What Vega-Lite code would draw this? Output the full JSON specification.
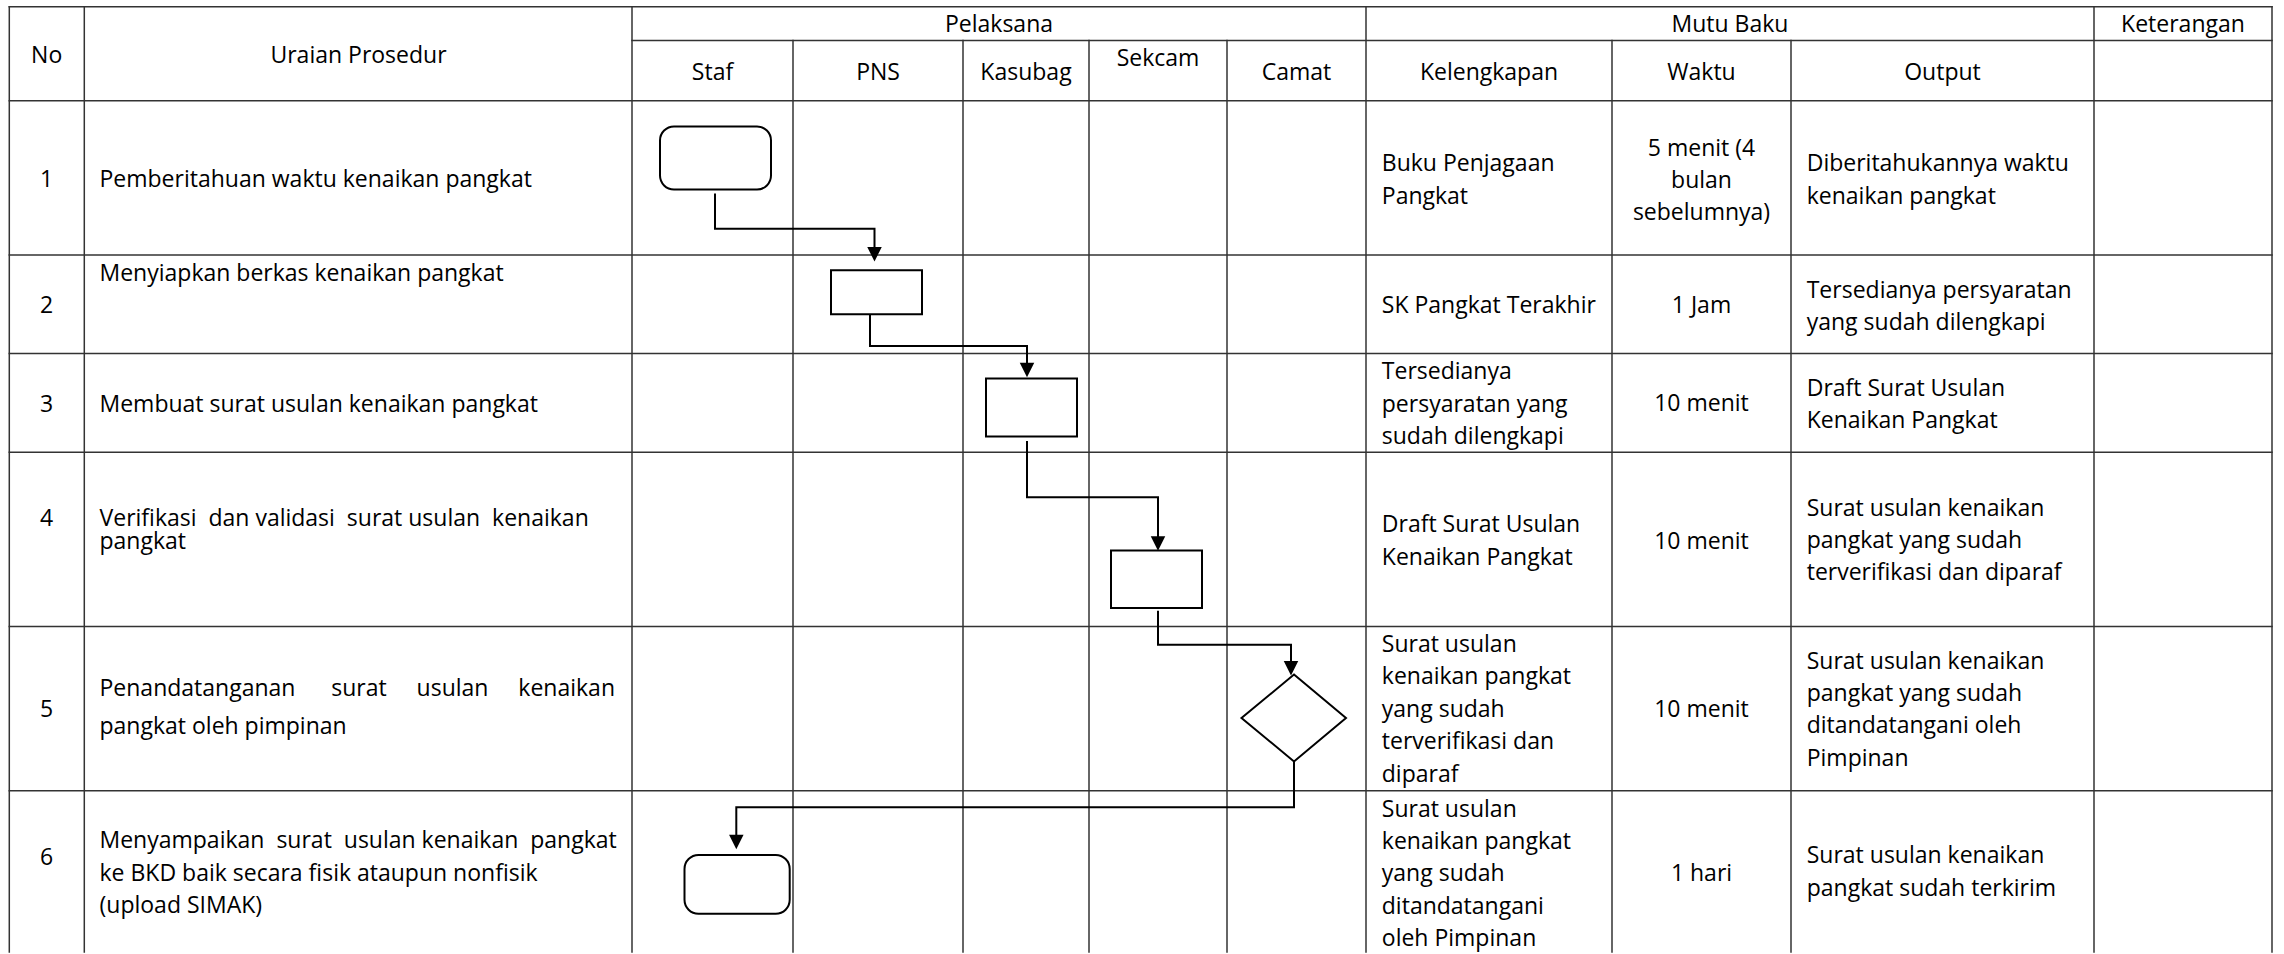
{
  "$schema": "https://vega.github.io/schema/vega-lite/v6.json",
  "width": 2284,
  "height": 954,
  "padding": 0,
  "autosize": {"type": "fit", "contains": "padding"},
  "background": "white",
  "config": {"view": {"stroke": null}, "text": {"font": "Open Sans", "fontSize": 23, "color": "black"}},
  "datasets": {
    "grid": [
      {"x": 9.3, "x2": 2272, "y": 6.7, "y2": 6.7},
      {"x": 632, "x2": 2272, "y": 40.7, "y2": 40.7},
      {"x": 9.3, "x2": 2272, "y": 101, "y2": 101},
      {"x": 9.3, "x2": 2272, "y": 255.5, "y2": 255.5},
      {"x": 9.3, "x2": 2272, "y": 354.3, "y2": 354.3},
      {"x": 9.3, "x2": 2272, "y": 453.3, "y2": 453.3},
      {"x": 9.3, "x2": 2272, "y": 627.8, "y2": 627.8},
      {"x": 9.3, "x2": 2272, "y": 792.3, "y2": 792.3},
      {"x": 9.3, "x2": 9.3, "y": 6.7, "y2": 954},
      {"x": 84.3, "x2": 84.3, "y": 6.7, "y2": 954},
      {"x": 632, "x2": 632, "y": 6.7, "y2": 954},
      {"x": 793, "x2": 793, "y": 40.7, "y2": 954},
      {"x": 963, "x2": 963, "y": 40.7, "y2": 954},
      {"x": 1089, "x2": 1089, "y": 40.7, "y2": 954},
      {"x": 1227, "x2": 1227, "y": 40.7, "y2": 954},
      {"x": 1366, "x2": 1366, "y": 6.7, "y2": 954},
      {"x": 1612, "x2": 1612, "y": 40.7, "y2": 954},
      {"x": 1791, "x2": 1791, "y": 40.7, "y2": 954},
      {"x": 2094, "x2": 2094, "y": 6.7, "y2": 954},
      {"x": 2272, "x2": 2272, "y": 6.7, "y2": 954}
    ],
    "roundBoxes": [
      {"step": 1, "x": 660, "x2": 771, "y": 126.7, "y2": 190},
      {"step": 6, "x": 684.5, "x2": 789.7, "y": 856.7, "y2": 915.7}
    ],
    "boxes": [
      {"step": 2, "x": 831, "x2": 922, "y": 270.7, "y2": 315},
      {"step": 3, "x": 986, "x2": 1077, "y": 379.3, "y2": 437.3},
      {"step": 4, "x": 1111, "x2": 1202, "y": 551.7, "y2": 609.3}
    ],
    "paths": [
      {"id": "c1", "seq": 1, "x": 715, "y": 194},
      {"id": "c1", "seq": 2, "x": 715, "y": 229.3},
      {"id": "c1", "seq": 3, "x": 874.5, "y": 229.3},
      {"id": "c1", "seq": 4, "x": 874.5, "y": 250},
      {"id": "c2", "seq": 1, "x": 870, "y": 315},
      {"id": "c2", "seq": 2, "x": 870, "y": 346.7},
      {"id": "c2", "seq": 3, "x": 1027, "y": 346.7},
      {"id": "c2", "seq": 4, "x": 1027, "y": 366},
      {"id": "c3", "seq": 1, "x": 1027, "y": 442},
      {"id": "c3", "seq": 2, "x": 1027, "y": 498.3},
      {"id": "c3", "seq": 3, "x": 1158, "y": 498.3},
      {"id": "c3", "seq": 4, "x": 1158, "y": 540},
      {"id": "c4", "seq": 1, "x": 1158, "y": 612},
      {"id": "c4", "seq": 2, "x": 1158, "y": 646},
      {"id": "c4", "seq": 3, "x": 1291, "y": 646},
      {"id": "c4", "seq": 4, "x": 1291, "y": 665},
      {"id": "c5", "seq": 1, "x": 1294, "y": 763},
      {"id": "c5", "seq": 2, "x": 1294, "y": 809},
      {"id": "c5", "seq": 3, "x": 736.3, "y": 809},
      {"id": "c5", "seq": 4, "x": 736.3, "y": 838},
      {"id": "d5", "seq": 1, "x": 1294, "y": 676},
      {"id": "d5", "seq": 2, "x": 1346, "y": 719.5},
      {"id": "d5", "seq": 3, "x": 1294, "y": 763},
      {"id": "d5", "seq": 4, "x": 1241.5, "y": 719.5},
      {"id": "d5", "seq": 5, "x": 1294, "y": 676},
      {"id": "d5", "seq": 6, "x": 1346, "y": 719.5}
    ],
    "arrows": [
      {"to": 2, "x": 874.5, "y": 262},
      {"to": 3, "x": 1027, "y": 378},
      {"to": 4, "x": 1158, "y": 552},
      {"to": 5, "x": 1291, "y": 677},
      {"to": 6, "x": 736.3, "y": 851}
    ],
    "textCenter": [
      {"t": "No", "x": 46.7, "y": 63.3},
      {"t": "Uraian Prosedur", "x": 358.5, "y": 63.3},
      {"t": "Pelaksana", "x": 999, "y": 32.3},
      {"t": "Mutu Baku", "x": 1730, "y": 32.3},
      {"t": "Keterangan", "x": 2183, "y": 32.3},
      {"t": "Staf", "x": 712.5, "y": 80},
      {"t": "PNS", "x": 878, "y": 80},
      {"t": "Kasubag", "x": 1026, "y": 80},
      {"t": "Sekcam", "x": 1158, "y": 66},
      {"t": "Camat", "x": 1296.5, "y": 80},
      {"t": "Kelengkapan", "x": 1489, "y": 80},
      {"t": "Waktu", "x": 1701.5, "y": 80},
      {"t": "Output", "x": 1942.5, "y": 80},
      {"t": "1", "x": 46.7, "y": 187.7},
      {"t": "2", "x": 46.7, "y": 314},
      {"t": "3", "x": 46.7, "y": 412.7},
      {"t": "4", "x": 46.7, "y": 526.7},
      {"t": "5", "x": 46.7, "y": 718.3},
      {"t": "6", "x": 46.7, "y": 866.7},
      {"t": "5 menit (4\nbulan\nsebelumnya)", "x": 1701.5, "y": 156},
      {"t": "1 Jam", "x": 1701.5, "y": 313.3},
      {"t": "10 menit", "x": 1701.5, "y": 411.7},
      {"t": "10 menit", "x": 1701.5, "y": 550},
      {"t": "10 menit", "x": 1701.5, "y": 718.3},
      {"t": "1 hari", "x": 1701.5, "y": 882.7}
    ],
    "textLeft": [
      {"t": "Pemberitahuan waktu kenaikan pangkat", "x": 99.5, "y": 187.7},
      {"t": "Menyiapkan berkas kenaikan pangkat", "x": 99.5, "y": 281.7},
      {"t": "Membuat surat usulan kenaikan pangkat", "x": 99.5, "y": 412.7},
      {"t": "Menyampaikan\u00a0\u00a0surat\u00a0\u00a0usulan kenaikan\u00a0\u00a0pangkat\nke BKD baik secara fisik ataupun nonfisik\n(upload SIMAK)", "x": 99.5, "y": 850},
      {"t": "Buku Penjagaan\nPangkat", "x": 1381.8, "y": 171.7},
      {"t": "SK Pangkat Terakhir", "x": 1381.8, "y": 313.3},
      {"t": "Tersedianya\npersyaratan yang\nsudah dilengkapi", "x": 1381.8, "y": 380},
      {"t": "Draft Surat Usulan\nKenaikan Pangkat", "x": 1381.8, "y": 533.3},
      {"t": "Surat usulan\nkenaikan pangkat\nyang sudah\nterverifikasi dan\ndiparaf", "x": 1381.8, "y": 653.3},
      {"t": "Surat usulan\nkenaikan pangkat\nyang sudah\nditandatangani\noleh Pimpinan", "x": 1381.8, "y": 818.3},
      {"t": "Diberitahukannya waktu\nkenaikan pangkat", "x": 1806.7, "y": 171.7},
      {"t": "Tersedianya persyaratan\nyang sudah dilengkapi", "x": 1806.7, "y": 298.3},
      {"t": "Draft Surat Usulan\nKenaikan Pangkat", "x": 1806.7, "y": 396.7},
      {"t": "Surat usulan kenaikan\npangkat yang sudah\nterverifikasi dan diparaf", "x": 1806.7, "y": 516.7},
      {"t": "Surat usulan kenaikan\npangkat yang sudah\nditandatangani oleh\nPimpinan", "x": 1806.7, "y": 670},
      {"t": "Surat usulan kenaikan\npangkat sudah terkirim", "x": 1806.7, "y": 865}
    ],
    "textTight": [
      {"t": "Verifikasi\u00a0\u00a0dan validasi\u00a0\u00a0surat usulan\u00a0\u00a0kenaikan\npangkat", "x": 99.5, "y": 527.3}
    ],
    "textLoose": [
      {"t": "Penandatanganan\u00a0\u00a0\u00a0\u00a0\u00a0\u00a0surat\u00a0\u00a0\u00a0\u00a0\u00a0usulan\u00a0\u00a0\u00a0\u00a0\u00a0kenaikan\npangkat oleh pimpinan", "x": 99.5, "y": 697.3}
    ]
  },
  "layer": [
    {
      "data": {"name": "grid"},
      "mark": {"type": "rule", "color": "#333333", "strokeWidth": 1.5, "strokeCap": "square"},
      "encoding": {
        "x": {"field": "x", "type": "quantitative", "scale": {"domain": [0, 2284], "nice": false, "zero": false}, "axis": null},
        "x2": {"field": "x2"},
        "y": {"field": "y", "type": "quantitative", "scale": {"domain": [0, 954], "nice": false, "zero": false, "reverse": true}, "axis": null},
        "y2": {"field": "y2"}
      }
    },
    {
      "data": {"name": "paths"},
      "mark": {"type": "line", "color": "black", "strokeWidth": 2, "strokeJoin": "miter"},
      "encoding": {
        "x": {"field": "x", "type": "quantitative", "scale": {"domain": [0, 2284], "nice": false, "zero": false}, "axis": null},
        "y": {"field": "y", "type": "quantitative", "scale": {"domain": [0, 954], "nice": false, "zero": false, "reverse": true}, "axis": null},
        "detail": {"field": "id", "type": "nominal"},
        "order": {"field": "seq", "type": "quantitative"}
      }
    },
    {
      "data": {"name": "roundBoxes"},
      "mark": {"type": "rect", "fill": "white", "stroke": "black", "strokeWidth": 2, "cornerRadius": 14},
      "encoding": {
        "x": {"field": "x", "type": "quantitative", "scale": {"domain": [0, 2284], "nice": false, "zero": false}, "axis": null},
        "x2": {"field": "x2"},
        "y": {"field": "y", "type": "quantitative", "scale": {"domain": [0, 954], "nice": false, "zero": false, "reverse": true}, "axis": null},
        "y2": {"field": "y2"}
      }
    },
    {
      "data": {"name": "boxes"},
      "mark": {"type": "rect", "fill": "white", "stroke": "black", "strokeWidth": 2},
      "encoding": {
        "x": {"field": "x", "type": "quantitative", "scale": {"domain": [0, 2284], "nice": false, "zero": false}, "axis": null},
        "x2": {"field": "x2"},
        "y": {"field": "y", "type": "quantitative", "scale": {"domain": [0, 954], "nice": false, "zero": false, "reverse": true}, "axis": null},
        "y2": {"field": "y2"}
      }
    },
    {
      "data": {"name": "arrows"},
      "mark": {"type": "point", "shape": "M-1,-2L1,-2L0,0Z", "size": 210, "filled": true, "color": "black", "opacity": 1},
      "encoding": {
        "x": {"field": "x", "type": "quantitative", "scale": {"domain": [0, 2284], "nice": false, "zero": false}, "axis": null},
        "y": {"field": "y", "type": "quantitative", "scale": {"domain": [0, 954], "nice": false, "zero": false, "reverse": true}, "axis": null}
      }
    },
    {
      "data": {"name": "textCenter"},
      "mark": {"type": "text", "align": "center", "baseline": "alphabetic", "lineBreak": "\n", "lineHeight": 32.2},
      "encoding": {
        "x": {"field": "x", "type": "quantitative", "scale": {"domain": [0, 2284], "nice": false, "zero": false}, "axis": null},
        "y": {"field": "y", "type": "quantitative", "scale": {"domain": [0, 954], "nice": false, "zero": false, "reverse": true}, "axis": null},
        "text": {"field": "t", "type": "nominal"}
      }
    },
    {
      "data": {"name": "textLeft"},
      "mark": {"type": "text", "align": "left", "baseline": "alphabetic", "lineBreak": "\n", "lineHeight": 32.4},
      "encoding": {
        "x": {"field": "x", "type": "quantitative", "scale": {"domain": [0, 2284], "nice": false, "zero": false}, "axis": null},
        "y": {"field": "y", "type": "quantitative", "scale": {"domain": [0, 954], "nice": false, "zero": false, "reverse": true}, "axis": null},
        "text": {"field": "t", "type": "nominal"}
      }
    },
    {
      "data": {"name": "textTight"},
      "mark": {"type": "text", "align": "left", "baseline": "alphabetic", "lineBreak": "\n", "lineHeight": 23},
      "encoding": {
        "x": {"field": "x", "type": "quantitative", "scale": {"domain": [0, 2284], "nice": false, "zero": false}, "axis": null},
        "y": {"field": "y", "type": "quantitative", "scale": {"domain": [0, 954], "nice": false, "zero": false, "reverse": true}, "axis": null},
        "text": {"field": "t", "type": "nominal"}
      }
    },
    {
      "data": {"name": "textLoose"},
      "mark": {"type": "text", "align": "left", "baseline": "alphabetic", "lineBreak": "\n", "lineHeight": 37.7},
      "encoding": {
        "x": {"field": "x", "type": "quantitative", "scale": {"domain": [0, 2284], "nice": false, "zero": false}, "axis": null},
        "y": {"field": "y", "type": "quantitative", "scale": {"domain": [0, 954], "nice": false, "zero": false, "reverse": true}, "axis": null},
        "text": {"field": "t", "type": "nominal"}
      }
    }
  ]
}
